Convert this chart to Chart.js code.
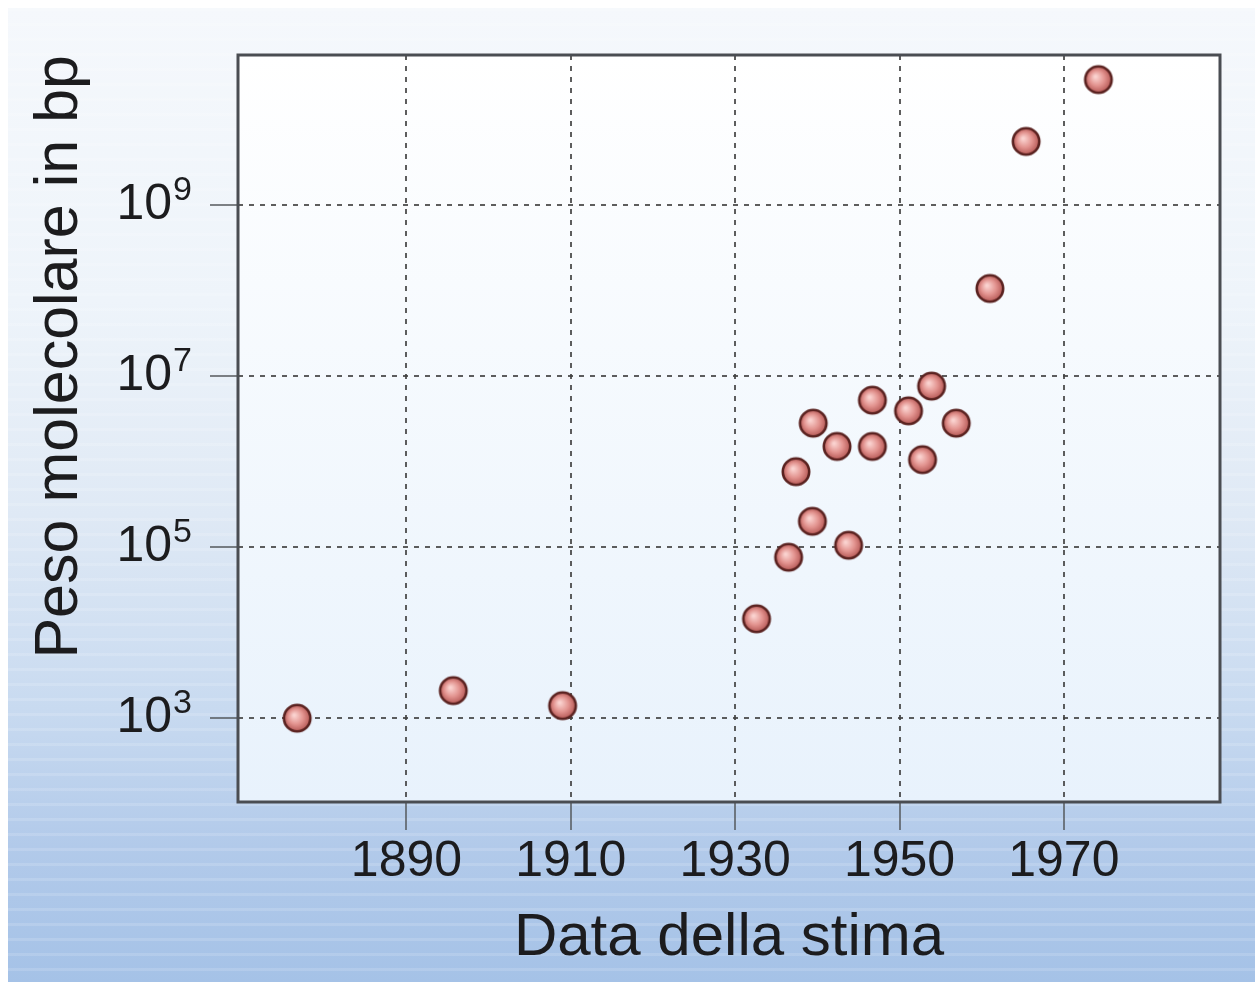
<!DOCTYPE html>
<html>
<head>
<meta charset="utf-8">
<script src="https://cdn.jsdelivr.net/npm/chart.js@4.4.1/dist/chart.umd.min.js"></script>
<style>
    html, body { margin: 0; padding: 0; background: #ffffff; }
    #frame {
        position: absolute; left: 8px; top: 8px; width: 1247px; height: 974px;
        background:
            repeating-linear-gradient(to bottom, rgba(255,255,255,0.14) 0px, rgba(255,255,255,0.14) 3px, rgba(255,255,255,0) 3px, rgba(255,255,255,0) 15px),
            linear-gradient(to bottom, #f5f8fc 0%, #eef4fa 30%, #dfe9f5 52%, #c8daf0 72%, #b2caea 86%, #a5c2e7 100%);
    }
    canvas { display: block; }
</style>
</head>
<body>
<div id="frame"><canvas id="chart" width="1247" height="974"></canvas></div>
<script>
// year of the estimate, molecular weight (bp)
const years = [1876.7, 1895.7, 1909, 1932.6, 1936.5, 1937.4, 1939.4, 1939.5, 1942.4, 1943.8,
               1946.7, 1946.7, 1951.1, 1952.8, 1953.9, 1956.9, 1961, 1965.4, 1974.2];
const weights = [1.0e3, 2.1e3, 1.4e3, 1.45e4, 7.6e4, 7.6e5, 2.0e5, 2.8e6, 1.5e6, 1.05e5,
                 5.2e6, 1.5e6, 3.9e6, 1.05e6, 7.6e6, 2.8e6, 1.05e8, 5.5e9, 2.9e10];
const xTicks = [1890, 1910, 1930, 1950, 1970];
const yTicks = [1e3, 1e5, 1e7, 1e9];
const yExponents = ["3", "5", "7", "9"];

const FONT = "'Liberation Sans', Arial, sans-serif";
const points = years.map((y, i) => ({ x: y, y: weights[i] }));

// shaded ball marker
function makeBall() {
    const c = document.createElement("canvas");
    c.width = 36; c.height = 36;
    const g = c.getContext("2d");
    const grad = g.createRadialGradient(15, 15, 1, 18, 18, 14);
    grad.addColorStop(0, "#fad2cf");
    grad.addColorStop(0.5, "#e39490");
    grad.addColorStop(1, "#b0524f");
    g.beginPath();
    g.arc(18, 18, 13.2, 0, Math.PI * 2);
    g.fillStyle = grad;
    g.fill();
    g.lineWidth = 2.6;
    g.strokeStyle = "#5a2220";
    g.stroke();
    return c;
}
const ball = makeBall();

const plotBox = {
    id: "plotBox",
    beforeDraw(chart) {
        const { ctx, chartArea: a } = chart;
        const grad = ctx.createLinearGradient(0, a.top, 0, a.bottom);
        grad.addColorStop(0, "#ffffff");
        grad.addColorStop(1, "#e8f2fc");
        ctx.save();
        ctx.fillStyle = grad;
        ctx.fillRect(a.left, a.top, a.right - a.left, a.bottom - a.top);
        ctx.restore();
    },
    beforeDatasetsDraw(chart) {
        const { ctx, chartArea: a } = chart;
        ctx.save();
        ctx.lineWidth = 3;
        ctx.strokeStyle = "#4a4d52";
        ctx.strokeRect(a.left, a.top, a.right - a.left, a.bottom - a.top);
        ctx.restore();
    },
    afterDraw(chart) {
        // exponents of the y tick labels, raised like superscripts
        const { ctx } = chart;
        const ys = chart.scales.y;
        ctx.save();
        ctx.fillStyle = "#1c1c1e";
        ctx.font = "34px " + FONT;
        ctx.textAlign = "left";
        ctx.textBaseline = "alphabetic";
        yTicks.forEach((v, i) => {
            const py = ys.getPixelForValue(v);
            ctx.fillText(yExponents[i], ys.right - 28 - 38 + 1, py - 5);
        });
        ctx.restore();
    }
};

const gridOpts = {
    color: "rgba(65,65,65,0.85)",
    lineWidth: 2,
    tickLength: 28,
    tickColor: "#55585c",
    tickWidth: 1.5
};

new Chart(document.getElementById("chart"), {
    type: "scatter",
    data: {
        datasets: [{
            data: points,
            pointStyle: ball,
            pointRadius: 14,
            pointHoverRadius: 14
        }]
    },
    options: {
        responsive: false,
        animation: false,
        layout: { padding: { top: 47, right: 35, left: 0, bottom: 0 } },
        plugins: { legend: { display: false }, tooltip: { enabled: false } },
        scales: {
            x: {
                type: "linear",
                min: 1869.5,
                max: 1989,
                afterBuildTicks: s => { s.ticks = xTicks.map(v => ({ value: v })); },
                afterFit: s => { s.height = 180; },
                grid: gridOpts,
                border: { display: false, dash: [5, 6] },
                ticks: {
                    color: "#1c1c1e",
                    padding: 2,
                    font: { family: FONT, size: 50 },
                    callback: v => String(v)
                },
                title: {
                    display: true,
                    text: "Data della stima",
                    color: "#1c1c1e",
                    padding: { top: 0, bottom: 8 },
                    font: { family: FONT, size: 60 }
                }
            },
            y: {
                type: "logarithmic",
                min: Math.pow(10, 2.02),
                max: Math.pow(10, 10.75),
                afterBuildTicks: s => { s.ticks = yTicks.map(v => ({ value: v })); },
                afterFit: s => { s.width = 230; s.paddingTop = 0; s.paddingBottom = 0; },
                grid: gridOpts,
                border: { display: false, dash: [5, 6] },
                ticks: {
                    color: "#1c1c1e",
                    padding: 38,
                    font: { family: FONT, size: 50 },
                    callback: v => (yTicks.indexOf(v) >= 0 ? "10" : "")
                },
                title: {
                    display: true,
                    text: "Peso molecolare in bp",
                    align: "end",
                    color: "#1c1c1e",
                    padding: { top: 16, bottom: 0 },
                    font: { family: FONT, size: 61 }
                }
            }
        }
    },
    plugins: [plotBox]
});
</script>
</body>
</html>
